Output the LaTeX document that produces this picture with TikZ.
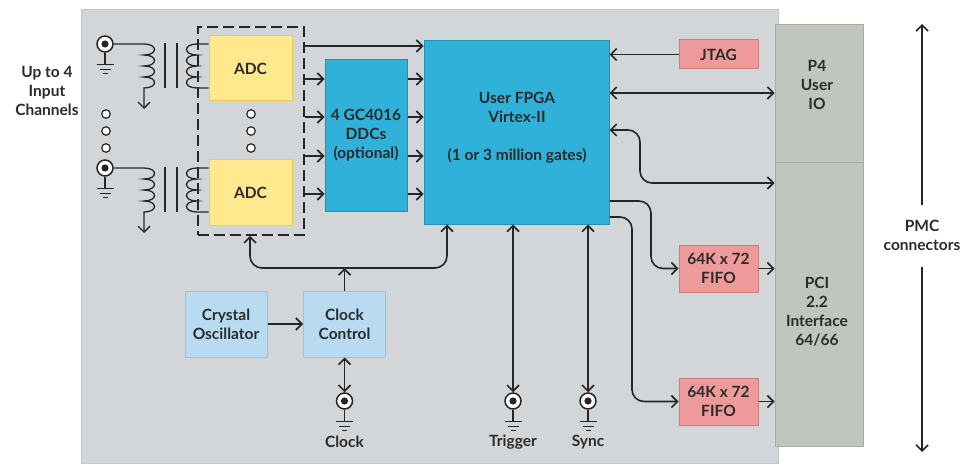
\documentclass[tikz,border=0pt]{standalone}
\usepackage{fontspec}
\setmainfont{Lato}
\usetikzlibrary{arrows.meta}
\definecolor{board}{HTML}{D3D6D9}
\definecolor{boardline}{HTML}{C4C7CA}
\definecolor{lc}{HTML}{262626}
\definecolor{txt}{HTML}{2B2B2B}
\definecolor{adcfill}{HTML}{FFE98F}
\definecolor{adcline}{HTML}{EFCB4E}
\definecolor{fpgafill}{HTML}{2FB1DA}
\definecolor{fpgaline}{HTML}{2390B2}
\definecolor{pinkfill}{HTML}{EF9A9A}
\definecolor{pinkline}{HTML}{C57D7D}
\definecolor{ltblue}{HTML}{B9DBF2}
\definecolor{ltblueline}{HTML}{8CC8EE}
\definecolor{confill}{HTML}{C0C6BE}
\definecolor{conline}{HTML}{A7ADA5}
\begin{document}
\begin{tikzpicture}[x=1pt,y=-1pt, line width=1.6pt, draw=lc,
  >={Straight Barb[length=6pt,width=12pt]},
  font=\bfseries\fontsize{15.5}{19}\selectfont, text=txt,
  blk/.style={draw, line width=1pt, inner sep=0pt, align=center},
  adc/.style={blk, fill=adcfill, draw=adcline, minimum width=83pt, minimum height=65pt},
  fpgabox/.style={blk, fill=fpgafill, draw=fpgaline},
  pinkbox/.style={blk, fill=pinkfill, draw=pinkline, minimum width=79pt},
  lbbox/.style={blk, fill=ltblue, draw=ltblueline, minimum width=82pt, minimum height=66pt},
  conbox/.style={blk, fill=confill, draw=conline, minimum width=88pt},
  lbl/.style={inner sep=0pt, align=center},
  conn/.style={circle, draw=lc, fill=white, line width=1.5pt, minimum size=16pt, inner sep=0pt,
    path picture={\fill[lc] (path picture bounding box.center) circle (3.6pt);}},
  odot/.style={circle, draw=lc, fill=white, line width=1.2pt, minimum size=8.5pt, inner sep=0pt},
  thin/.style={line width=1.3pt},
  gnd/.pic={\draw[line width=1.2pt] (0,0) -- (0,12) (-8.5,12) -- (8.5,12) (-5.5,16.5) -- (5.5,16.5) (-2.5,21) -- (2.5,21);}
]
\useasboundingbox (0,0) rectangle (971,465);
% board
\fill[board, draw=boardline, line width=1pt] (81,10) rectangle (778,463);

% connector boxes
\node[conbox, minimum height=138pt] (p4) at (819,94) {};
\node[conbox, minimum height=283pt] (pci) at (819,304.5) {};
\node[lbl] (p4t) at (817,85) {P4\\User\\IO};
\node[lbl] (pcit) at (817,311.5) {PCI\\2.2\\Interface\\64/66};

% PMC connectors arrow
\coordinate (pmcA) at (922,205);
\coordinate (pmcB) at (922,24);
\coordinate (pmcC) at (922,267);
\coordinate (pmcD) at (922,452);
\draw[->] (pmcA) -- (pmcB);
\draw[->] (pmcC) -- (pmcD);
\node[lbl] (pmct) at (922,235) {PMC\\connectors};

% input label
\node[lbl] (inlbl) at (47,90.5) {Up to 4\\Input\\Channels};

% input channels
\foreach \s/\n in {0/1,124/2}{
\begin{scope}[shift={(0,\s)}]
  \node[conn] (in\n) at (105,44) {};
  \pic at (in\n.south) {gnd};
  \draw[thin, ->] (in\n.east) -- (144,44)
    \foreach \k in {0,1,2,3}{ .. controls (158,44+11*\k) and (158,55+11*\k) .. (144,55+11*\k) }
    -- (144,109);
  \draw[thin] (165,43) -- (165,88) (177,43) -- (177,88);
  \node[adc] (adc\n) at (250.5,68.5) {ADC};
  \draw[thin] (adc\n.west |- 0,44) -- (197,44)
    \foreach \k in {0,1,2,3}{ .. controls (183,44+11*\k) and (183,55+11*\k) .. (197,55+11*\k) }
    -- (adc\n.west |- 0,88);
\end{scope}
}
% dots
\foreach \y/\i in {114/1,131/2,148/3}{
  \node[odot] (ldot\i) at (106,\y) {};
  \node[odot] (mdot\i) at (251,\y) {};
}
% dashed group
\node[draw, dash pattern=on 11pt off 5pt, minimum width=106pt, minimum height=208pt, inner sep=0pt] (grp) at (251,131) {};

% DDC and FPGA
\node[fpgabox, minimum width=82pt, minimum height=151pt] (ddc) at (366,135.5) {4 GC4016\\DDCs\\(optional)};
\node[fpgabox, minimum width=185pt, minimum height=183pt] (fpga) at (516.5,132.5) {};
\node[lbl] (fpgat) at (517,128) {User FPGA\\Virtex-II\\[19pt](1 or 3 million gates)};

\draw[->] (grp.east |- 0,46) -- (fpga.west |- 0,46);
\foreach \y in {79,117,156,194}{
  \draw[->] (grp.east |- 0,\y) -- (ddc.west |- 0,\y);
  \draw[->] (ddc.east |- 0,\y) -- (fpga.west |- 0,\y);
}

% JTAG / FIFOs
\node[pinkbox, minimum height=29pt] (jtag) at (718.5,54.5) {JTAG};
\node[pinkbox, minimum height=47pt] (fifo1) at (718.5,268.5) {64K x 72\\FIFO};
\node[pinkbox, minimum height=47pt] (fifo2) at (718.5,401.5) {64K x 72\\FIFO};

\draw[->] (jtag.west) -- (fpga.east |- jtag.west);
\draw[<->] (fpga.east |- 0,93) -- (p4.west |- 0,93);
\draw[<->, rounded corners=12pt] (fpga.east |- 0,130) -- (640,130) -- (640,183) -- (pci.west |- 0,183);
\draw[->, rounded corners=12pt] (fpga.east |- 0,201) -- (651,201) -- (651,268.5) -- (fifo1.west);
\draw[->, rounded corners=12pt] (fpga.east |- 0,217) -- (632,217) -- (632,401.5) -- (fifo2.west);
\draw[->] (fifo1.east) -- (pci.west |- fifo1.east);
\draw[->] (fifo2.east) -- (pci.west |- fifo2.east);

% clock section
\node[lbbox] (xtal) at (226,324) {Crystal\\Oscillator};
\node[lbbox] (cc) at (344.5,324) {Clock\\Control};
\draw[->] (xtal.east) -- (cc.west);
\coordinate (bus) at (344.5,268);
\draw[->] (cc.north) -- (bus);
\draw[<->, rounded corners=12pt] (grp.south -| 250,0) -- (250,268) -- (447,268) -- (fpga.south -| 447,0);

% bottom connectors
\node[conn] (clk) at (344.5,401) {};
\node[conn] (trig) at (513,401) {};
\node[conn] (sync) at (588,401) {};
\foreach \c in {clk,trig,sync}{ \pic at (\c.south) {gnd}; }
\draw[<->] (cc.south) -- (clk.north);
\draw[<->] (fpga.south -| trig.north) -- (trig.north);
\draw[<->] (fpga.south -| sync.north) -- (sync.north);
\node[lbl] (clkt) at (344.5,442) {Clock};
\node[lbl] (trigt) at (513,442) {Trigger};
\node[lbl] (synct) at (588,442) {Sync};
\end{tikzpicture}
\end{document}
